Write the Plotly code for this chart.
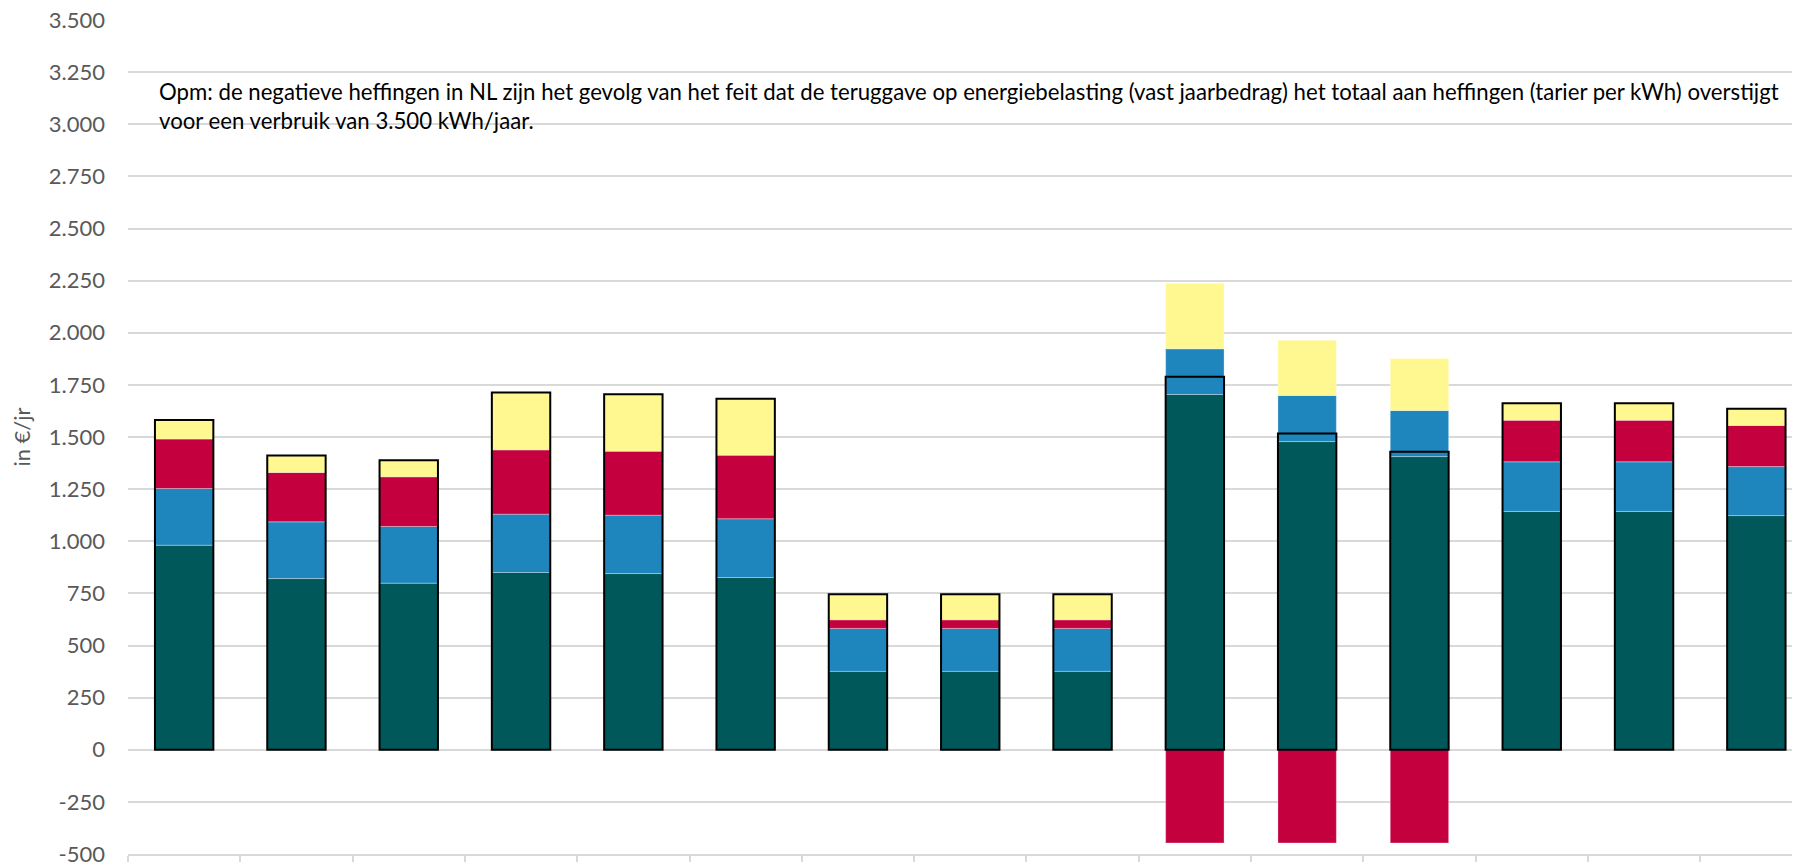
import plotly.graph_objects as go

categories = [f"Cat {i}" for i in range(1, 16)]
teal_vals   = [981, 821, 799, 850, 845, 826, 376, 376, 376, 1704, 1478, 1406, 1143, 1143, 1123]
blue_vals   = [272, 272, 272, 280, 280, 282, 206, 206, 206, 219, 221, 221, 238, 238, 235]
red_vals    = [237, 237, 238, 308, 307, 305, 41, 41, 41, -447, -447, -447, 199, 199, 197]
yellow_vals = [92, 81, 80, 275, 273, 270, 123, 123, 123, 313, 265, 249, 82, 82, 80]
totals = [t + b + r + y for t, b, r, y in zip(teal_vals, blue_vals, red_vals, yellow_vals)]

tick_vals = list(range(-500, 3501, 250))
tick_labels = ["-500", "-250", "0", "250", "500", "750", "1.000", "1.250", "1.500", "1.750",
               "2.000", "2.250", "2.500", "2.750", "3.000", "3.250", "3.500"]

note = ("Opm: de negatieve heffingen in NL zijn het gevolg van het feit dat de teruggave op energiebelasting "
        "(vast jaarbedrag) het totaal aan heffingen (tarier per kWh) overstijgt<br>"
        "voor een verbruik van 3.500 kWh/jaar.")

FONT = "Lato"
BW = 0.52
seg_line = dict(color="rgba(255,255,255,0.3)", width=1)

fig = go.Figure()
for name, vals, col in [("teal", teal_vals, "#00585A"), ("blue", blue_vals, "#1F86BD"),
                        ("red", red_vals, "#C4003F"), ("yellow", yellow_vals, "#FFF790")]:
    fig.add_trace(go.Bar(x=categories, y=vals, name=name, width=BW,
                         marker=dict(color=col, line=seg_line), hoverinfo="y"))

fig.add_trace(go.Bar(x=categories, y=totals, name="totaal", width=BW, xaxis="x2",
                     marker=dict(color="rgba(0,0,0,0)", line=dict(color="black", width=2)),
                     hoverinfo="y"))

# page body has an 8px margin, so the figure is 8px smaller in both directions
xr = [-0.5, -0.5 + (1800 - 128) / 112.3]
fig.update_layout(
    width=1792, height=854,
    barmode="relative",
    showlegend=False,
    plot_bgcolor="white", paper_bgcolor="white",
    margin=dict(l=120, r=0, t=12, b=8, autoexpand=False),
    font=dict(family=FONT, color="#595959", size=22),
    xaxis=dict(range=xr, showticklabels=False, showgrid=False, zeroline=False, automargin=False,
               showline=True, linecolor="#d9d9d9", linewidth=1.5,
               ticks="outside", tickson="boundaries", ticklen=12, tickcolor="#d9d9d9", tickwidth=1.5),
    xaxis2=dict(range=xr, overlaying="x", matches="x", visible=False),
    yaxis=dict(range=[-500, 3500], tickvals=tick_vals, ticktext=tick_labels, automargin=False,
               showgrid=True, gridcolor="#d9d9d9", gridwidth=1.5,
               zeroline=True, zerolinecolor="#d9d9d9", zerolinewidth=1.5,
               ticks="", ticklabelstandoff=22, ticklabeloverflow="allow",
               tickfont=dict(size=22, color="#595959"),
               title=dict(text="in €/jr", standoff=14, font=dict(size=22, color="#595959"))),
    annotations=[dict(text=note, xref="paper", yref="y", x=0.0173, y=3088,
                      xanchor="left", yanchor="middle", align="left", showarrow=False,
                      font=dict(family=FONT, size=22.2, color="#000000"))],
)

fig.write_html("out.html")
